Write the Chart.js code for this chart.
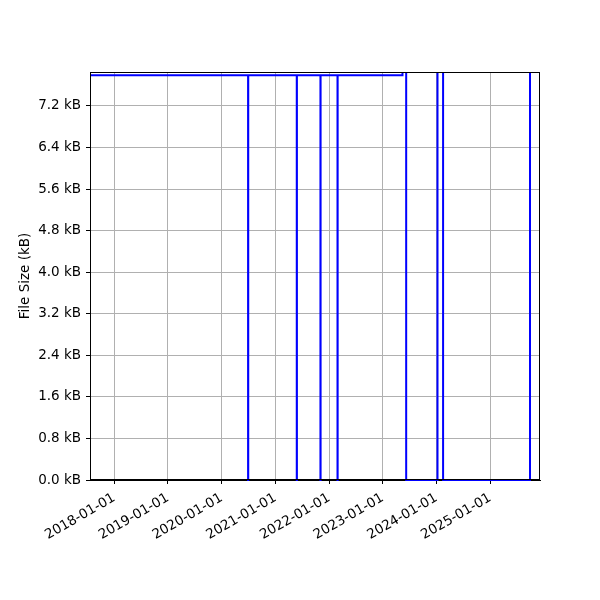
<!DOCTYPE html>
<html lang="en">
<head>
    <meta charset="UTF-8">
    <title>File Size History</title>
    <style>
        html, body { margin: 0; padding: 0; background: #fff; }
        #wrap { width: 600px; height: 600px; }
    </style>
    <script src="https://cdn.jsdelivr.net/npm/chart.js"></script>
</head>
<body>
    <div id="wrap"><canvas id="sizeChart" width="600" height="600"></canvas></div>

    <script>
        // Change dates (step plot) and file size in kB after each change
        const changeDates = ['2017-07-20', '2020-06-29', '2020-06-30', '2021-05-26', '2021-05-27',
                             '2021-11-03', '2021-11-04', '2022-02-27', '2022-02-28', '2023-05-15',
                             '2023-06-09', '2024-01-08', '2024-02-15', '2025-09-28'];
        const sizesKB = [7.79, 0, 7.79, 0, 7.79, 0, 7.79, 0, 7.79, 9.5, 0, 9.5, 0, 9.5];

        // Axis ranges and ticks
        const xStart = '2017-07-20';
        const xEnd = '2025-12-05';
        const tickYears = [2018, 2019, 2020, 2021, 2022, 2023, 2024, 2025];
        const yMax = 7.854;
        const yTicks = [0, 0.8, 1.6, 2.4, 3.2, 4.0, 4.8, 5.6, 6.4, 7.2];

        const toMs = s => Date.parse(s + 'T00:00:00Z');
        const fmtDate = ms => new Date(ms).toISOString().slice(0, 10);

        const font = { family: 'DejaVu Sans', size: 13.5 };

        // hold each value until the next change point
        const points = changeDates.map((d, i) => ({ x: toMs(d), y: sizesKB[i] }));

        // black frame round the plot area
        const frame = {
            id: 'frame',
            afterDraw(chart) {
                const a = chart.chartArea;
                const c = chart.ctx;
                c.save();
                c.strokeStyle = '#000';
                c.lineWidth = 1;
                c.strokeRect(Math.round(a.left) + 0.5, Math.round(a.top) + 0.5,
                             Math.round(a.right - a.left) - 1, Math.round(a.bottom - a.top) - 1);
                c.restore();
            }
        };

        const ctx = document.getElementById('sizeChart').getContext('2d');
        new Chart(ctx, {
            type: 'line',
            data: {
                datasets: [{
                    data: points,
                    borderColor: '#0000ff',
                    borderWidth: 2,
                    stepped: 'before',
                    pointRadius: 0,
                    fill: false,
                    clip: { left: 0, top: 0, right: 0, bottom: 2 }
                }]
            },
            options: {
                responsive: false,
                animation: false,
                layout: { padding: { left: 15, right: 60, top: 72, bottom: 0 } },
                plugins: { legend: { display: false }, tooltip: { enabled: false } },
                scales: {
                    x: {
                        type: 'linear',
                        min: toMs(xStart),
                        max: toMs(xEnd),
                        afterBuildTicks: s => { s.ticks = tickYears.map(y => ({ value: Date.UTC(y, 0, 1) })); },
                        afterFit: s => { s.height = 120; s.paddingLeft = 0; s.paddingRight = 0; },
                        ticks: {
                            callback: v => fmtDate(v),
                            minRotation: 30,
                            maxRotation: 30,
                            autoSkip: false,
                            color: '#000',
                            font: font,
                            padding: 6
                        },
                        grid: { color: '#b0b0b0', tickColor: '#000', tickLength: 4 },
                        border: { color: '#000' }
                    },
                    y: {
                        min: 0,
                        max: yMax,
                        afterBuildTicks: s => { s.ticks = yTicks.map(v => ({ value: v })); },
                        afterFit: s => { s.width = 75; s.paddingTop = 0; s.paddingBottom = 0; },
                        ticks: {
                            callback: v => v.toFixed(1) + ' kB',
                            color: '#000',
                            font: font,
                            padding: 5
                        },
                        grid: { color: '#b0b0b0', tickColor: '#000', tickLength: 4 },
                        border: { color: '#000' },
                        title: { display: true, text: 'File Size (kB)', color: '#000', font: font, padding: 2 }
                    }
                }
            },
            plugins: [frame]
        });
    </script>
</body>
</html>
